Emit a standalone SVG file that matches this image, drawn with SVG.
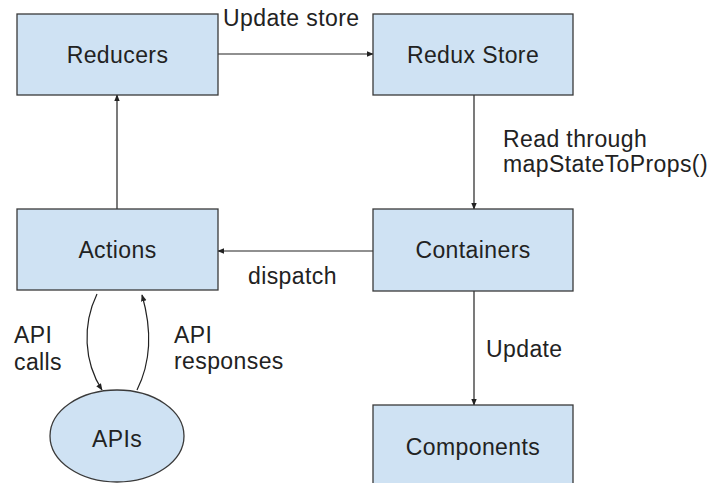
<svg xmlns="http://www.w3.org/2000/svg" width="712" height="483" viewBox="0 0 712 483">
  <style>
    .box { fill: #cfe2f3; stroke: #3a3a3a; stroke-width: 1.3; }
    .lbl { font-family: "Liberation Sans", Arial, sans-serif; font-size: 23px; letter-spacing: 0.4px; fill: #222; }
    .mid { text-anchor: middle; }
    .wire { fill: none; stroke: #222; stroke-width: 1.2; marker-end: url(#head); }
  </style>
  <defs>
    <marker id="head" viewBox="0 0 10 10" refX="9" refY="5" markerWidth="7" markerHeight="7" markerUnits="userSpaceOnUse" orient="auto">
      <path d="M0,1 L10,5 L0,9 Z" fill="#222"/>
    </marker>
  </defs>
  <rect width="712" height="483" fill="#ffffff"/>

  <g id="connectors">
    <line class="wire" x1="218" y1="54" x2="373" y2="54"/>
    <line class="wire" x1="474" y1="95" x2="474" y2="209"/>
    <line class="wire" x1="373" y1="251" x2="218" y2="251"/>
    <line class="wire" x1="117" y1="209" x2="117" y2="95"/>
    <line class="wire" x1="474" y1="291" x2="474" y2="405"/>
    <path class="wire" d="M97 294 C82 325 84 362 102 390"/>
    <path class="wire" d="M137 390 C152 360 151 326 142 295"/>
    <text class="lbl" x="223" y="26">Update store</text>
    <text class="lbl" x="503" y="147">Read through</text>
    <text class="lbl" x="503" y="172">mapStateToProps()</text>
    <text class="lbl" x="248" y="284">dispatch</text>
    <text class="lbl" x="486" y="357">Update</text>
    <text class="lbl" x="14" y="343">API</text>
    <text class="lbl" x="14" y="370">calls</text>
    <text class="lbl" x="174" y="343">API</text>
    <text class="lbl" x="174" y="369">responses</text>
  </g>

  <g id="reducers">
    <rect class="box" x="17" y="14" width="201" height="81"/>
    <text class="lbl mid" x="117.5" y="63">Reducers</text>
  </g>
  <g id="redux-store">
    <rect class="box" x="373" y="14" width="200" height="81"/>
    <text class="lbl mid" x="473" y="63">Redux Store</text>
  </g>
  <g id="actions">
    <rect class="box" x="17" y="209" width="201" height="81"/>
    <text class="lbl mid" x="117.5" y="258">Actions</text>
  </g>
  <g id="containers">
    <rect class="box" x="373" y="209" width="200" height="82"/>
    <text class="lbl mid" x="473" y="258">Containers</text>
  </g>
  <g id="components">
    <rect class="box" x="373" y="405" width="200" height="90"/>
    <text class="lbl mid" x="473" y="455">Components</text>
  </g>
  <g id="apis">
    <ellipse class="box" cx="117" cy="436" rx="67" ry="46"/>
    <text class="lbl mid" x="117" y="447">APIs</text>
  </g>
</svg>
